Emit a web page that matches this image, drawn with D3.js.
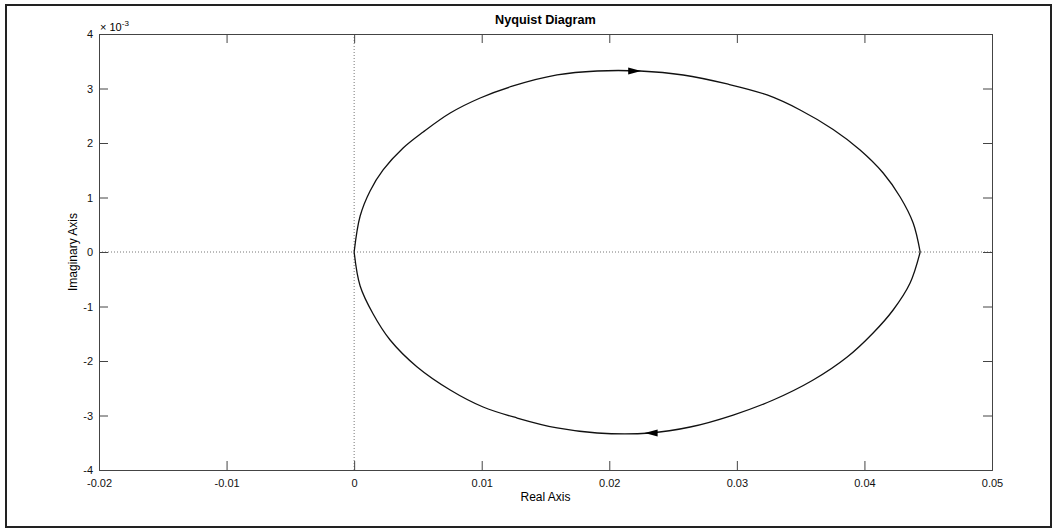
<!DOCTYPE html>
<html>
<head>
<meta charset="utf-8">
<script src="https://cdn.jsdelivr.net/npm/d3@7"></script>
<style>
  body { margin: 0; background: #fff; }
  svg { display: block; font-family: "Liberation Sans", Arial, sans-serif; }
</style>
</head>
<body>
<svg width="1057" height="529"></svg>
<script>
"use strict";
// Nyquist curve: real part, imaginary part (x 1e-3)
let upperRe = [0, 0.00047, 0.00125, 0.00227, 0.00384, 0.00541, 0.00753, 0.00988, 0.01246, 0.01591, 0.01905, 0.02242, 0.02579, 0.02924, 0.03237, 0.03496, 0.03755, 0.03966, 0.04147, 0.04280, 0.04382, 0.04437];
let upperIm = [0, 0.66, 1.12, 1.505, 1.908, 2.202, 2.550, 2.826, 3.046, 3.248, 3.321, 3.321, 3.248, 3.083, 2.881, 2.606, 2.248, 1.872, 1.450, 1.009, 0.532, 0];
let lowerRe = [0, 0.00047, 0.00149, 0.00282, 0.00494, 0.00753, 0.01011, 0.01278, 0.01591, 0.01905, 0.02320, 0.02634, 0.02971, 0.03285, 0.03598, 0.03865, 0.04068, 0.04225, 0.04358, 0.04437];
let lowerIm = [0, -0.624, -1.138, -1.615, -2.110, -2.532, -2.844, -3.046, -3.229, -3.321, -3.321, -3.211, -2.991, -2.716, -2.349, -1.927, -1.486, -1.064, -0.569, 0];
// arrows: tip position and direction (+1 right, -1 left)
let arrowRe = [0.02250, 0.02277];
let arrowIm = [3.321, -3.321];
let arrowDir = [1, -1];

let xTicks = [-0.02, -0.01, 0, 0.01, 0.02, 0.03, 0.04, 0.05];
let yTicks = [-4, -3, -2, -1, 0, 1, 2, 3, 4];

let svg = d3.select("svg"),
    pLeft = 99, pRight = 992, pTop = 34, pBottom = 470;

// outer frame
svg.append("rect")
    .attr("x", 6).attr("y", 5)
    .attr("width", 1045).attr("height", 522)
    .attr("fill", "none").attr("stroke", "#222").attr("stroke-width", 2);

let x = d3.scaleLinear().domain([-0.02, 0.05]).range([pLeft, pRight]);
let y = d3.scaleLinear().domain([-4, 4]).range([pBottom, pTop]);

let g = svg.append("g");

// zero lines
g.append("line")
    .attr("x1", x(0)).attr("x2", x(0)).attr("y1", pTop).attr("y2", pBottom)
    .attr("stroke", "#777").attr("stroke-dasharray", "1,2");
g.append("line")
    .attr("x1", pLeft).attr("x2", pRight).attr("y1", y(0)).attr("y2", y(0))
    .attr("stroke", "#777").attr("stroke-dasharray", "1,2");

// axes with inward ticks, MATLAB box
let fmt = d => String(+d.toFixed(2));
g.append("g").attr("transform", "translate(0," + pBottom + ")")
    .call(d3.axisBottom(x).tickValues(xTicks).tickSize(-9).tickPadding(9).tickFormat(fmt));
g.append("g").attr("transform", "translate(0," + pTop + ")")
    .call(d3.axisTop(x).tickValues(xTicks).tickSize(-9).tickFormat(""));
g.append("g").attr("transform", "translate(" + pLeft + ",0)")
    .call(d3.axisLeft(y).tickValues(yTicks).tickSize(-9).tickPadding(6).tickFormat(fmt));
g.append("g").attr("transform", "translate(" + pRight + ",0)")
    .call(d3.axisRight(y).tickValues(yTicks).tickSize(-9).tickFormat(""));

g.selectAll(".domain, .tick line").attr("stroke", "#444");
g.selectAll(".tick text").attr("font-size", 11).attr("fill", "#111")
    .attr("font-family", "Liberation Sans, Arial, sans-serif");

// curve
let line = d3.line().x(d => x(d[0])).y(d => y(d[1])).curve(d3.curveCatmullRom.alpha(0.5));
let upper = d3.zip(upperRe, upperIm);
let lower = d3.zip(lowerRe, lowerIm);
[upper, lower].forEach(pts => {
    g.append("path").datum(pts)
        .attr("d", line)
        .attr("fill", "none").attr("stroke", "#111").attr("stroke-width", 1.3);
});

// arrows
g.selectAll(".arrow").data(d3.range(arrowRe.length)).enter().append("path")
    .attr("class", "arrow")
    .attr("d", i => {
        let tx = x(arrowRe[i]), ty = y(arrowIm[i]), dir = arrowDir[i];
        let bx = tx - dir * 13;
        return "M" + tx + "," + ty + "L" + bx + "," + (ty - 3.5) + "L" + bx + "," + (ty + 3.5) + "Z";
    })
    .attr("fill", "#000");

// texts
svg.append("text").attr("x", (pLeft + pRight) / 2).attr("y", 24)
    .attr("text-anchor", "middle").attr("font-size", 12.7).attr("font-weight", "bold")
    .text("Nyquist Diagram");
svg.append("text").attr("x", (pLeft + pRight) / 2).attr("y", 501)
    .attr("text-anchor", "middle").attr("font-size", 12)
    .text("Real Axis");
svg.append("text").attr("transform", "translate(77," + (pTop + pBottom) / 2 + ") rotate(-90)")
    .attr("text-anchor", "middle").attr("font-size", 12)
    .text("Imaginary Axis");
let ex = svg.append("text").attr("x", 100).attr("y", 31).attr("font-size", 11);
ex.append("tspan").text("\u00d7 10");
ex.append("tspan").attr("dy", -5).attr("font-size", 8).text("-3");
</script>
</body>
</html>
